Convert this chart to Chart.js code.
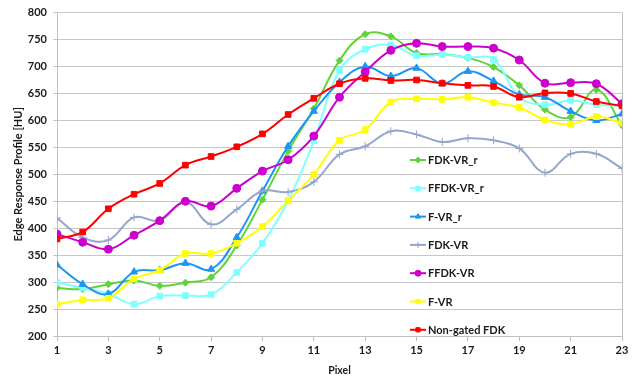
<!DOCTYPE html>
<html>
<head>
<meta charset="utf-8">
<script src="https://cdn.jsdelivr.net/npm/chart.js@4"></script>
<style>
  html, body { margin: 0; padding: 0; background: #fff; }
  #wrap { width: 637px; height: 377px; }
</style>
</head>
<body>
<div id="wrap"><canvas id="edgeChart"></canvas></div>
<script>
// Data
const pixels = [1, 2, 3, 4, 5, 6, 7, 8, 9, 10, 11, 12, 13, 14, 15, 16, 17, 18, 19, 20, 21, 22, 23];
const xTicks = [1, 3, 5, 7, 9, 11, 13, 15, 17, 19, 21, 23];
const yTicks = [200, 250, 300, 350, 400, 450, 500, 550, 600, 650, 700, 750, 800];

const fdkVrR   = [289, 287, 296, 303, 293, 299, 309, 368, 453, 543, 622, 711, 760, 756, 725, 723, 716, 699, 665, 620, 606, 657, 591];
const ffdkVrR  = [299, 289, 278, 259, 274, 275, 277, 318, 372, 451, 562, 693, 732, 740, 720, 722, 717, 713, 643, 629, 637, 629, 627];
const fVrR     = [332, 296, 278, 319, 322, 335, 324, 383, 469, 552, 617, 671, 700, 682, 697, 668, 691, 673, 648, 643, 617, 600, 612];
const fdkVr    = [419, 383, 378, 420, 414, 449, 407, 435, 469, 467, 486, 537, 552, 580, 574, 560, 567, 563, 548, 503, 538, 538, 511];
const ffdkVr   = [389, 374, 361, 387, 414, 450, 441, 474, 506, 527, 571, 643, 690, 730, 743, 737, 737, 734, 712, 669, 670, 668, 631];
const fVr      = [259, 267, 270, 306, 322, 353, 353, 372, 403, 451, 500, 563, 583, 634, 640, 639, 643, 633, 624, 601, 593, 607, 595];
const nonGated = [380, 393, 436, 463, 483, 517, 533, 551, 575, 611, 641, 668, 678, 674, 675, 669, 665, 663, 643, 651, 650, 635, 627];

const seriesNames = ['FDK-VR_r', 'FFDK-VR_r', 'F-VR_r', 'FDK-VR', 'FFDK-VR', 'F-VR', 'Non-gated FDK'];
const seriesData = [fdkVrR, ffdkVrR, fVrR, fdkVr, ffdkVr, fVr, nonGated];
const seriesColors = ['#5ED43A', '#7FFFFF', '#1E96F0', '#93A6CC', '#CC00CC', '#FFFF00', '#FF0000'];
const seriesMarkers = ['rectRot', 'rect', 'triangle', 'cross', 'circle', 'rect', 'rect'];
const markerSizes = [3.5, 4, 4.2, 4, 4, 4, 4];

const font = "Lato, 'Open Sans', sans-serif";

const datasets = seriesNames.map((name, i) => ({
    label: name,
    data: pixels.map((p, j) => ({ x: p, y: seriesData[i][j] })),
    borderColor: seriesColors[i],
    backgroundColor: seriesColors[i],
    borderWidth: 2,
    tension: 0.4,
    pointStyle: seriesMarkers[i],
    pointRadius: markerSizes[i],
    pointBorderWidth: 1,
    order: seriesNames.length - i
}));

// Legend drawn inside the plot area, plus the right border of the plot
const insideLegend = {
    id: 'insideLegend',
    afterDatasetsDraw(chart) {
        const c = chart.ctx;
        const area = chart.chartArea;
        c.save();
        c.strokeStyle = '#bfbfbf';
        c.lineWidth = 1;
        c.beginPath();
        c.moveTo(area.right + 0.5, area.top);
        c.lineTo(area.right + 0.5, area.bottom);
        c.stroke();

        const lx = 410, top = 160, gap = 28.3;
        c.font = 'bold 11px ' + font;
        c.textBaseline = 'middle';
        chart.data.datasets.forEach((ds, i) => {
            const y = top + i * gap;
            c.strokeStyle = ds.borderColor;
            c.lineWidth = 2;
            c.beginPath();
            c.moveTo(lx, y);
            c.lineTo(lx + 16, y);
            c.stroke();
            c.lineWidth = 1;
            c.fillStyle = ds.borderColor;
            Chart.helpers.drawPoint(c, {
                pointStyle: ds.pointStyle,
                radius: 3,
                borderWidth: 1,
                rotation: 0
            }, lx + 8, y);
            c.fillStyle = '#1a1a1a';
            c.fillText(ds.label, lx + 18, y + 0.5);
        });
        c.restore();
    }
};

const ctx = document.getElementById('edgeChart').getContext('2d');
const edgeChart = new Chart(ctx, {
    type: 'line',
    data: { datasets },
    options: {
        responsive: true,
        maintainAspectRatio: false,
        animation: false,
        layout: { padding: { top: 12, right: 15, left: 0, bottom: 0 } },
        plugins: {
            legend: { display: false },
            tooltip: { enabled: false }
        },
        scales: {
            x: {
                type: 'linear',
                min: 1,
                max: 23,
                afterBuildTicks: axis => { axis.ticks = xTicks.map(v => ({ value: v })); },
                afterFit: axis => { axis.height = 41; },
                grid: { drawOnChartArea: false, color: '#bfbfbf', tickLength: 5 },
                border: { color: '#bfbfbf' },
                ticks: { color: '#1a1a1a', font: { family: font, size: 11, weight: 'bold' }, padding: 3, maxRotation: 0 },
                title: { display: true, text: 'Pixel', color: '#1a1a1a', font: { family: font, size: 10.5, weight: 'bold' }, padding: { top: 2, bottom: 0 } }
            },
            y: {
                min: 200,
                max: 800,
                afterBuildTicks: axis => { axis.ticks = yTicks.map(v => ({ value: v })); },
                afterFit: axis => { axis.width = 57; },
                grid: { color: '#c6c6c6', tickLength: 4 },
                border: { color: '#bfbfbf' },
                ticks: { color: '#1a1a1a', font: { family: font, size: 11, weight: 'bold' }, padding: 6 },
                title: { display: true, text: 'Edge Response Profile [HU]', color: '#1a1a1a', font: { family: font, size: 11, weight: 'bold' }, padding: { top: 12, bottom: 2 } }
            }
        }
    },
    plugins: [insideLegend]
});
</script>
</body>
</html>
